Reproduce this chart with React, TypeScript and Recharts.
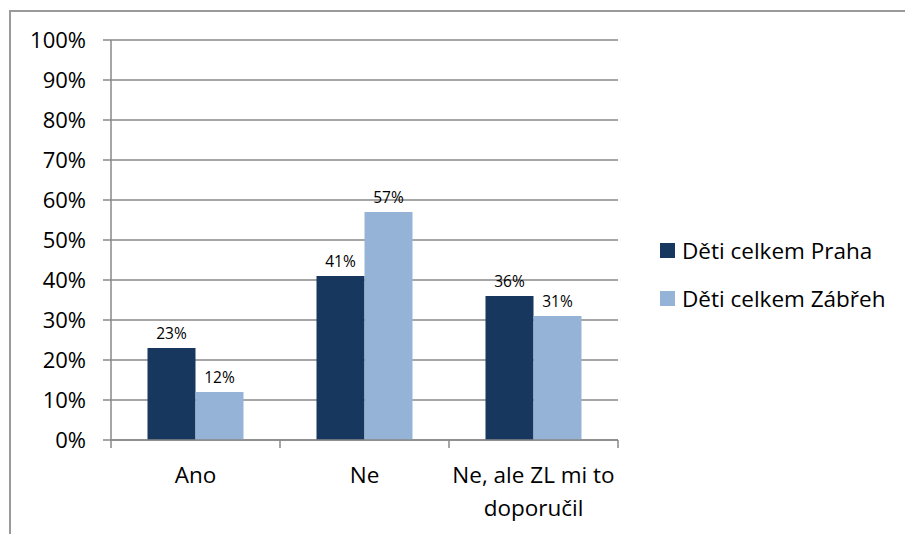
import React from "react";
import { BarChart, Bar, XAxis, YAxis, CartesianGrid, LabelList } from "recharts";

const categories = ["Ano", "Ne", "Ne, ale ZL mi to\ndoporučil"];
const praha = [23, 41, 36];
const zabreh = [12, 57, 31];
const yTicks = [0, 10, 20, 30, 40, 50, 60, 70, 80, 90, 100];

const seriesNames = ["Děti celkem Praha", "Děti celkem Zábřeh"];
const colors = ["#17375E", "#95B3D7"];
const FONT = "'Open Sans', Calibri, sans-serif";
const AXIS = "#898989";

const data = categories.map((c, i) => ({ name: c, praha: praha[i], zabreh: zabreh[i] }));

// category label plus the small tick marks at band edges
function CategoryTick(props: any) {
  const { x, y, payload, index, width, visibleTicksCount } = props;
  const band = width / visibleTicksCount;
  const top = y - 8;
  const lines = String(payload.value).split("\n");
  return (
    <g>
      <line x1={x - band / 2} x2={x - band / 2} y1={top} y2={top + 8} stroke={AXIS} strokeWidth={1.5} />
      {index === visibleTicksCount - 1 && (
        <line x1={x + band / 2} x2={x + band / 2} y1={top} y2={top + 8} stroke={AXIS} strokeWidth={1.5} />
      )}
      <text x={x} y={y + 35} textAnchor="middle" fontSize={22.5} fontFamily={FONT} fill="#000">
        {lines.map((l, i) => (
          <tspan key={i} x={x} dy={i === 0 ? 0 : 33}>
            {l}
          </tspan>
        ))}
      </text>
    </g>
  );
}

function LegendBox() {
  return (
    <div style={{ position: "absolute", left: 660, top: 226, fontFamily: FONT, fontSize: 22.5, color: "#000" }}>
      {seriesNames.map((n, i) => (
        <div key={n} style={{ display: "flex", alignItems: "center", height: 48 }}>
          <span style={{ display: "inline-block", width: 15, height: 15, background: colors[i], marginRight: 7 }} />
          <span>{n}</span>
        </div>
      ))}
    </div>
  );
}

export default function App() {
  return (
    <div style={{ position: "absolute", left: 0, top: 0, width: 905, height: 534, background: "#fff", overflow: "hidden" }}>
      <div
        style={{
          position: "absolute",
          left: 9,
          top: 10,
          width: 1000,
          height: 1000,
          borderLeft: "2px solid #9a9a9a",
          borderTop: "2px solid #9a9a9a",
        }}
      />
      <BarChart
        width={905}
        height={534}
        data={data}
        margin={{ top: 40, right: 287, bottom: 34, left: 11 }}
        barCategoryGap="21.6%"
        barGap={0}
        style={{ position: "absolute", left: 0, top: 0 }}
      >
        <CartesianGrid vertical={false} stroke={AXIS} strokeWidth={1.5} />
        <XAxis
          dataKey="name"
          height={60}
          interval={0}
          tick={<CategoryTick />}
          tickLine={false}
          axisLine={{ stroke: AXIS, strokeWidth: 1.5 }}
        />
        <YAxis
          width={100}
          domain={[0, 100]}
          ticks={yTicks}
          interval={0}
          tickFormatter={(v: number) => `${v}%`}
          tickSize={8}
          tickMargin={17}
          tickLine={{ stroke: AXIS, strokeWidth: 1.5 }}
          axisLine={{ stroke: AXIS, strokeWidth: 1.5 }}
          tick={{ fill: "#000", fontSize: 22, fontFamily: FONT }}
        />
        <Bar dataKey="praha" name={seriesNames[0]} fill={colors[0]} isAnimationActive={false}>
          <LabelList dataKey="praha" position="top" offset={9} formatter={(v: any) => `${v}%`} style={{ fontSize: 15.5, fontFamily: FONT, fill: "#000" }} />
        </Bar>
        <Bar dataKey="zabreh" name={seriesNames[1]} fill={colors[1]} isAnimationActive={false}>
          <LabelList dataKey="zabreh" position="top" offset={9} formatter={(v: any) => `${v}%`} style={{ fontSize: 15.5, fontFamily: FONT, fill: "#000" }} />
        </Bar>
      </BarChart>
      <LegendBox />
    </div>
  );
}
